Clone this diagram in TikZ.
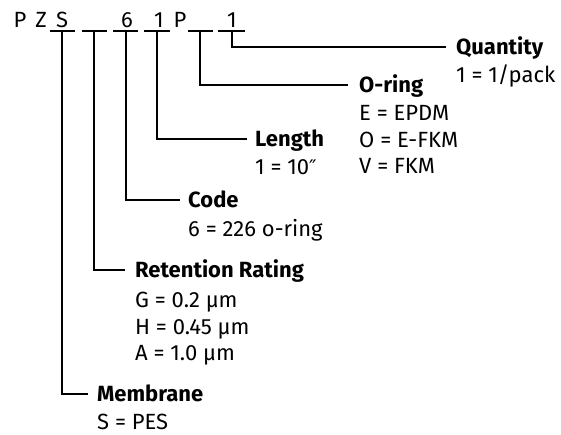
\documentclass[tikz,border=0pt]{standalone}
\usepackage{fontspec}
\setmainfont{Fira Sans}
\newfontfamily\dvfont{DejaVu Sans}
\begin{document}
\begin{tikzpicture}[x=1pt,y=-1pt,
  every node/.style={inner sep=0pt,text height=15pt,text depth=0pt,font=\fontsize{22}{24}\selectfont},
  letter/.style={anchor=center},
  title/.style={anchor=west,font=\fontsize{22}{24}\selectfont\bfseries},
  desc/.style={anchor=west},
  conn/.style={line width=1.6pt},
  under/.style={line width=1.6pt}]
\useasboundingbox (0,0) rectangle (561,434);
% code letters
\node[letter] (l1) at (20,20) {P};
\node[letter] (l2) at (41,20) {Z};
\node[letter] (l3) at (62,20) {S};
\node[letter] (l4) at (127,20) {6};
\node[letter] (l5) at (159,20) {1};
\node[letter] (l6) at (180,20) {P};
\node[letter] (l7) at (232,20) {1};
% underscores
\foreach \a/\b/\c [count=\i] in {50/75/62, 82/107/94, 113/138/126, 144/170/157, 188/213/200, 218/245/232}{
  \draw[under] (\a,31) -- (\b,31);
  \coordinate (d\i) at (\c,31);
}
% titles
\node[title] (qty) at (456,47) {Quantity};
\node[title] (oring) at (359,85) {O-ring};
\node[title] (len) at (255,139) {Length};
\node[title] (code) at (188,200) {Code};
\node[title] (ret) at (135,270) {Retention Rating};
\node[title] (mem) at (97,394) {Membrane};
% descriptions
\node[desc] (qty1) at (456,75) {1 = 1/pack};
\node[desc] (or1) at (359,113) {E = EPDM};
\node[desc] (or2) at (359,140) {O = E-FKM};
\node[desc] (or3) at (359,166) {V = FKM};
\node[desc] (len1) at (255,167) {1 = 10{\dvfont\fontsize{20}{22}\selectfont ″}};
\node[desc] (code1) at (188,229) {6 = 226 o-ring};
\node[desc] (ret1) at (135,300) {G = 0.2 µm};
\node[desc] (ret2) at (135,327) {H = 0.45 µm};
\node[desc] (ret3) at (135,353) {A = 1.0 µm};
\node[desc] (mem1) at (97,422) {S = PES};
% connectors
\draw[conn] (d6) |- ([xshift=-10pt]qty.west);
\draw[conn] (d5) |- ([xshift=-11pt]oring.west);
\draw[conn] (d4) |- ([xshift=-8pt]len.west);
\draw[conn] (d3) |- ([xshift=-8pt]code.west);
\draw[conn] (d2) |- ([xshift=-10pt]ret.west);
\draw[conn] (d1) |- ([xshift=-9pt]mem.west);
\end{tikzpicture}
\end{document}
